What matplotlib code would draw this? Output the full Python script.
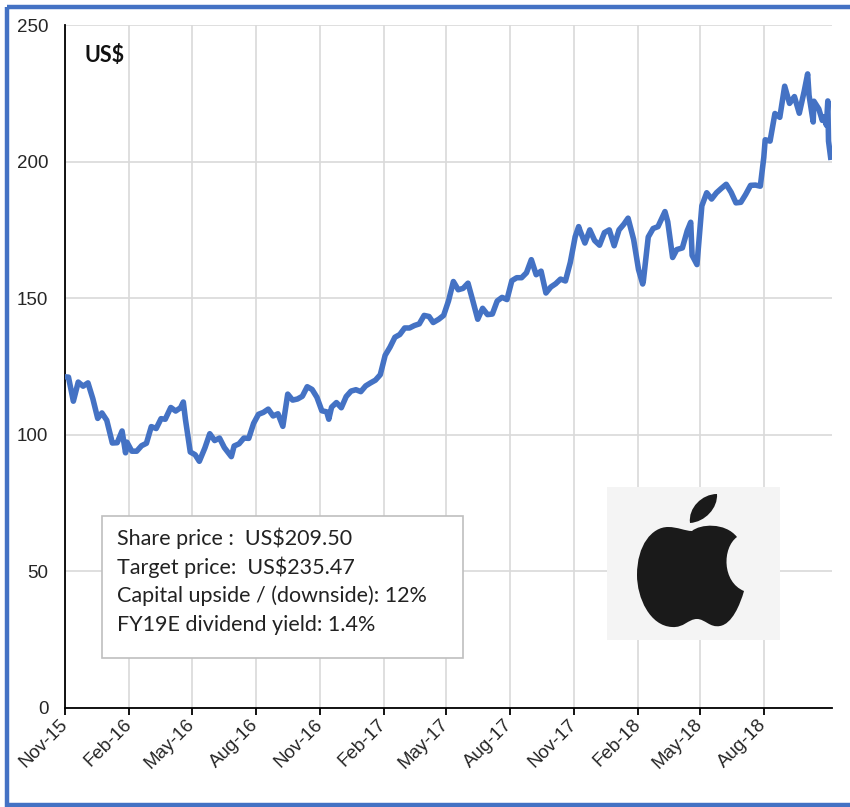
# Apple share price chart (Nov-15 to Nov-18)
import matplotlib
matplotlib.use("Agg")
import matplotlib.pyplot as plt
import matplotlib.dates as mdates
from matplotlib.patches import Rectangle, PathPatch
from matplotlib.path import Path
import pandas as pd

# DATA - approx closes
dates = [
    "2015-11-02", "2015-11-06", "2015-11-13", "2015-11-20", "2015-11-27", "2015-12-04",
    "2015-12-11", "2015-12-18", "2015-12-24", "2015-12-31", "2016-01-08", "2016-01-15",
    "2016-01-22", "2016-01-27", "2016-01-29", "2016-02-05", "2016-02-12", "2016-02-19",
    "2016-02-26", "2016-03-04", "2016-03-11", "2016-03-18", "2016-03-24", "2016-04-01",
    "2016-04-08", "2016-04-15", "2016-04-19", "2016-04-22", "2016-04-29", "2016-05-06",
    "2016-05-12", "2016-05-20", "2016-05-27", "2016-06-03", "2016-06-10", "2016-06-17",
    "2016-06-27", "2016-07-01", "2016-07-08", "2016-07-15", "2016-07-22", "2016-07-29",
    "2016-08-05", "2016-08-12", "2016-08-19", "2016-08-26", "2016-09-02", "2016-09-09",
    "2016-09-16", "2016-09-23", "2016-09-30", "2016-10-07", "2016-10-14", "2016-10-21",
    "2016-10-28", "2016-11-04", "2016-11-11", "2016-11-14", "2016-11-18", "2016-11-25",
    "2016-12-02", "2016-12-09", "2016-12-16", "2016-12-23", "2016-12-30", "2017-01-06",
    "2017-01-13", "2017-01-20", "2017-01-27", "2017-02-03", "2017-02-10", "2017-02-17",
    "2017-02-24", "2017-03-03", "2017-03-10", "2017-03-17", "2017-03-24", "2017-03-31",
    "2017-04-07", "2017-04-13", "2017-04-21", "2017-04-28", "2017-05-05", "2017-05-12",
    "2017-05-19", "2017-05-26", "2017-06-02", "2017-06-09", "2017-06-16", "2017-06-23",
    "2017-06-30", "2017-07-07", "2017-07-14", "2017-07-21", "2017-07-28", "2017-08-04",
    "2017-08-11", "2017-08-18", "2017-08-25", "2017-09-01", "2017-09-08", "2017-09-15",
    "2017-09-22", "2017-09-29", "2017-10-06", "2017-10-13", "2017-10-20", "2017-10-27",
    "2017-11-03", "2017-11-08", "2017-11-10", "2017-11-17", "2017-11-24", "2017-12-01",
    "2017-12-08", "2017-12-15", "2017-12-22", "2017-12-29", "2018-01-05", "2018-01-12",
    "2018-01-18", "2018-01-26", "2018-02-02", "2018-02-08", "2018-02-09", "2018-02-16",
    "2018-02-23", "2018-03-02", "2018-03-09", "2018-03-12", "2018-03-16", "2018-03-23",
    "2018-03-29", "2018-04-06", "2018-04-13", "2018-04-18", "2018-04-20", "2018-04-27",
    "2018-05-04", "2018-05-11", "2018-05-18", "2018-05-25", "2018-06-01", "2018-06-08",
    "2018-06-15", "2018-06-22", "2018-06-29", "2018-07-06", "2018-07-13", "2018-07-20",
    "2018-07-27", "2018-08-01", "2018-08-03", "2018-08-10", "2018-08-17", "2018-08-24",
    "2018-08-31", "2018-09-07", "2018-09-14", "2018-09-21", "2018-09-28", "2018-10-03",
    "2018-10-05", "2018-10-11", "2018-10-12", "2018-10-19", "2018-10-24", "2018-10-26",
    "2018-10-30", "2018-11-01", "2018-11-02", "2018-11-05",
]
prices = [
    121.2, 121.1, 112.3, 119.3, 117.8, 119.0,
    113.2, 106.0, 108.0, 105.3, 97.0, 97.1,
    101.4, 93.4, 97.3, 94.0, 94.0, 96.0,
    96.9, 103.0, 102.3, 105.9, 105.7, 110.0,
    108.7, 109.9, 112.0, 105.7, 93.7, 92.7,
    90.3, 95.2, 100.4, 97.9, 98.8, 95.3,
    92.0, 95.9, 96.7, 98.8, 98.7, 104.2,
    107.5, 108.2, 109.4, 106.9, 107.7, 103.1,
    114.9, 112.7, 113.1, 114.1, 117.6, 116.6,
    113.7, 108.8, 108.4, 105.7, 110.1, 111.8,
    109.9, 114.0, 116.0, 116.5, 115.8, 117.9,
    119.0, 120.0, 122.0, 129.1, 132.1, 135.7,
    136.7, 139.1, 139.1, 140.0, 140.6, 143.7,
    143.3, 141.1, 142.3, 143.7, 149.0, 156.1,
    153.1, 153.6, 155.5, 149.0, 142.3, 146.3,
    144.0, 144.2, 149.0, 150.3, 149.5, 156.4,
    157.5, 157.5, 159.3, 164.1, 158.6, 159.9,
    151.9, 154.1, 155.3, 157.0, 156.3, 163.1,
    172.5, 176.2, 174.7, 170.2, 175.0, 171.1,
    169.4, 174.0, 175.0, 169.2, 175.0, 177.1,
    179.3, 171.5, 160.5, 155.2, 156.4, 172.4,
    175.5, 176.2, 180.0, 181.7, 178.0, 164.9,
    167.8, 168.4, 174.7, 177.8, 165.7, 162.3,
    183.8, 188.6, 186.3, 188.6, 190.2, 191.7,
    188.8, 184.9, 185.1, 188.0, 191.3, 191.4,
    191.0, 201.5, 208.0, 207.5, 217.6, 216.2,
    227.6, 221.3, 223.8, 217.7, 225.7, 232.1,
    224.3, 214.5, 222.1, 219.3, 215.1, 216.3,
    213.3, 222.2, 207.5, 201.6,
]
tick_dates = [
    "2015-11-01", "2016-02-01", "2016-05-01", "2016-08-01", "2016-11-01", "2017-02-01",
    "2017-05-01", "2017-08-01", "2017-11-01", "2018-02-01", "2018-05-01", "2018-08-01",
]
y_ticks = [0, 50, 100, 150, 200, 250]
info_lines = [
    "Share price :  US$209.50",
    "Target price:  US$235.47",
    "Capital upside / (downside): 12%",
    "FY19E dividend yield: 1.4%",
]

BLUE = "#4472C4"
GRID = "#d9d9d9"

x = pd.to_datetime(dates)

fig = plt.figure(figsize=(8.5, 8.07), dpi=100)
ax = fig.add_axes([65 / 850, 1 - 708 / 807, (832 - 65) / 850, (708 - 25) / 807])

ax.plot(x, prices, color=BLUE, lw=4.0, solid_joinstyle="round", zorder=3)

ax.set_ylim(0, 250)
ax.set_yticks(y_ticks)
ax.set_xlim(pd.Timestamp("2015-11-01"), pd.Timestamp("2018-11-07"))
ax.set_xticks(pd.to_datetime(tick_dates))
ax.xaxis.set_major_formatter(mdates.DateFormatter("%b-%y"))

ax.grid(True, color=GRID, lw=1.2, zorder=0)
ax.set_axisbelow(True)
for s in ["top", "right"]:
    ax.spines[s].set_visible(False)
ax.spines["left"].set_linewidth(1.3)
ax.spines["bottom"].set_linewidth(1.3)

ax.tick_params(axis="y", length=0, pad=12, labelsize=13.5, labelcolor="#262626")
ax.tick_params(axis="x", length=5, width=1.3, direction="out", pad=5,
               labelsize=13.5, labelcolor="#262626")
for lab in ax.get_yticklabels() + ax.get_xticklabels():
    lab.set_fontfamily("Liberation Sans")
for lab in ax.get_xticklabels():
    lab.set_rotation(45)
    lab.set_ha("right")
    lab.set_va("center")
    lab.set_rotation_mode("anchor")

# overlay in pixel coordinates for labels, box, logo and border
ov = fig.add_axes([0, 0, 1, 1], zorder=5)
ov.set_xlim(0, 850)
ov.set_ylim(807, 0)
ov.axis("off")
ov.patch.set_alpha(0)

ov.text(85, 55, "US$", fontsize=15.5, fontweight="bold", family="Lato",
        ha="left", va="center", color="#111111")

ov.add_patch(Rectangle((102, 516), 361, 142, facecolor="white",
                       edgecolor="#bfbfbf", lw=1.2))
for i, line in enumerate(info_lines):
    ov.text(117, 538 + i * 29, line, fontsize=15.5, family="Lato",
            ha="left", va="center", color="#222222")

# apple logo
ov.add_patch(Rectangle((607, 487), 173, 153, facecolor="#f4f4f4", edgecolor="none"))
M, C, Z = Path.MOVETO, Path.CURVE4, Path.CLOSEPOLY
body = [
    ((692, 531), M),
    ((700, 524), C), ((725, 522), C), ((737, 537), C),
    ((722, 548), C), ((722, 582), C), ((744, 591), C),
    ((740, 605), C), ((732, 624), C), ((720, 626), C),
    ((710, 628), C), ((705, 619), C), ((697, 619), C),
    ((688, 619), C), ((684, 628), C), ((672, 627), C),
    ((650, 626), C), ((637, 598), C), ((637, 575), C),
    ((637, 545), C), ((652, 527), C), ((668, 527), C),
    ((678, 527), C), ((685, 531), C), ((692, 531), C),
    ((692, 531), Z),
]
leaf = [
    ((690, 523), M),
    ((688, 508), C), ((702, 494), C), ((717, 494), C),
    ((718, 508), C), ((705, 522), C), ((690, 523), C),
    ((690, 523), Z),
]
for shape in (body, leaf):
    verts, codes = zip(*shape)
    ov.add_patch(PathPatch(Path(verts, codes), facecolor="#1a1a1a", edgecolor="none"))

# blue frame
ov.add_patch(Rectangle((7, 7), 860, 798, facecolor="none", edgecolor=BLUE, lw=3.2))

fig.savefig("out.png", dpi=100)
